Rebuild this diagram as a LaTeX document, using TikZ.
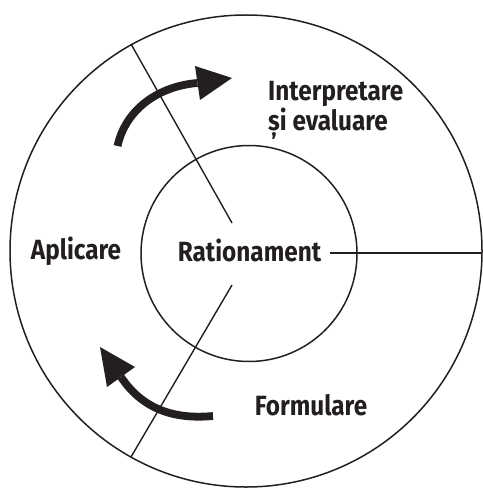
\documentclass[tikz,border=0pt]{standalone}
\usepackage{fontspec}
\setmainfont{Fira Sans}[FakeStretch=0.875]
\definecolor{ink}{RGB}{35,31,32}
\tikzset{
  ring/.style={draw=ink, line width=1.5pt},
  divider/.style={draw=ink, line width=1.4pt},
  lbl/.style={text=ink, inner sep=0pt, font=\fontsize{27.8}{25}\selectfont\bfseries},
  sweep/.style={draw=ink, line width=7.8pt, line cap=butt},
  tiphead/.style={fill=ink, draw=none}
}
\begin{document}
\begin{tikzpicture}[x=1pt,y=-1pt]
\useasboundingbox (0,0) rectangle (482,489);
% circles
\draw[ring] (246,251) circle[radius=236pt];
\draw[ring] (249,253.5) circle[radius=108pt];
% divider end points
\coordinate (u1) at (131,44);
\coordinate (u2) at (232,223);
\coordinate (l1) at (232,285);
\coordinate (l2) at (131,457);
\coordinate (h1) at (330,253);
\coordinate (h2) at (482,253);
\draw[divider] (u1) -- (u2);
\draw[divider] (l1) -- (l2);
\draw[divider] (h1) -- (h2);
% labels
\node[lbl, anchor=base] (rat) at (249.5,261.7) {Rationament};
\node[lbl, anchor=base] (apl) at (76,259.5) {Aplicare};
\node[lbl, anchor=base] (frm) at (311,415.7) {Formulare};
\node[lbl, anchor=north west, align=left] (int) at (268,81) {Interpretare\\și evaluare};
% upper arrow
\coordinate (ua0) at (117.5,146);
\coordinate (ua1) at (197.5,83);
\coordinate (uat) at (232,78);
\coordinate (uab1) at (195,66);
\coordinate (uab2) at (200,100);
\draw[sweep] (ua0) .. controls (126,108) and (160,86) .. (ua1);
\fill[tiphead] (uab1) -- (uat) -- (uab2) -- cycle;
% lower arrow
\coordinate (la0) at (213,416);
\coordinate (la1) at (121,377);
\coordinate (lat) at (100,347);
\coordinate (lab1) at (107,387);
\coordinate (lab2) at (135,367);
\draw[sweep] (la0) .. controls (180,419) and (145,413) .. (la1);
\fill[tiphead] (lab1) -- (lat) -- (lab2) -- cycle;
\end{tikzpicture}
\end{document}
